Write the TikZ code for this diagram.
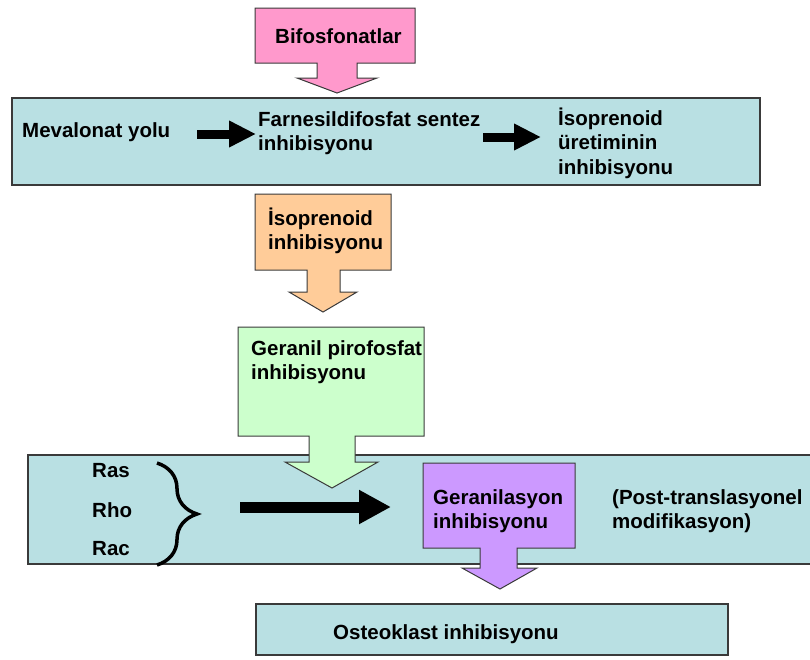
\documentclass[tikz,border=0pt]{standalone}
\usepackage{fontspec}
\setmainfont{Liberation Sans}
\usetikzlibrary{arrows.meta,decorations.pathreplacing}
\definecolor{bandblue}{HTML}{B9E0E3}
\definecolor{pinkc}{HTML}{FF99CC}
\definecolor{orangec}{HTML}{FFCC99}
\definecolor{greenc}{HTML}{CCFFCC}
\definecolor{purplec}{HTML}{CC99FF}
\definecolor{edgec}{HTML}{3A3A3A}
\tikzset{
  band/.style={draw=edgec, line width=1.2pt, fill=bandblue},
  callout/.style={draw=edgec, line width=1pt},
  lbl/.style={anchor=base west, inner sep=0pt, align=left, font=\fontsize{20.5}{24.5}\selectfont\bfseries},
  blockarrow/.style={line width=#1, draw=black},
}
\begin{document}
\begin{tikzpicture}[x=1pt,y=-1pt]
\useasboundingbox (0,0) rectangle (810,659);
% band 1
\draw[band] (12,98) rectangle (760,185);
% pink callout
\draw[callout, fill=pinkc] (255,8) -- (415,8) -- (415,63) -- (357,63) -- (357,78) -- (377,78) -- (337,93) -- (297,78) -- (317,78) -- (317,63) -- (255,63) -- cycle;
\node[lbl] (bif) at (275,43) {Bifosfonatlar};
% band 1 texts (base = last line)
\node[lbl] (mev) at (22,137) {Mevalonat yolu};
\node[lbl] (far) at (258,150.5) {Farnesildifosfat sentez\\inhibisyonu};
\node[lbl] (iso) at (558,174) {İsoprenoid\\üretiminin\\inhibisyonu};
\coordinate (a1s) at (197,134);
\coordinate (a1e) at (256,134);
\coordinate (a2s) at (483,137);
\coordinate (a2e) at (541,137);
\draw[blockarrow=9pt, -{Triangle[length=27pt,width=25pt]}] (a1s) -- (a1e);
\draw[blockarrow=9pt, -{Triangle[length=27pt,width=25pt]}] (a2s) -- (a2e);
% orange callout
\draw[callout, fill=orangec] (255,194) -- (391,194) -- (391,270) -- (340,270) -- (340,292) -- (357,292) -- (323,312) -- (289,292) -- (307,292) -- (307,270) -- (255,270) -- cycle;
\node[lbl] (isoinh) at (268,249.5) {İsoprenoid\\inhibisyonu};
% band 2
\draw[band] (28,455) rectangle (815,564);
% green callout
\draw[callout, fill=greenc] (238,327) -- (424,327) -- (424,436) -- (355,436) -- (355,462) -- (378,462) -- (332,488) -- (285,462) -- (309,462) -- (309,436) -- (238,436) -- cycle;
\node[lbl] (ger) at (251,379.5) {Geranil pirofosfat\\inhibisyonu};
% band 2 contents
\node[lbl] (ras) at (92,477) {Ras};
\node[lbl] (rho) at (92,517) {Rho};
\node[lbl] (rac) at (92,555) {Rac};
\coordinate (brt) at (157,463);
\coordinate (brb) at (157,565);
\draw[line width=3.5pt, decoration={brace, amplitude=40pt, aspect=0.5}, decorate] (brt) -- (brb);
\coordinate (a3s) at (240,507);
\coordinate (a3e) at (391,507);
\draw[blockarrow=11pt, -{Triangle[length=32pt,width=32pt]}] (a3s) -- (a3e);
% purple callout
\draw[callout, fill=purplec] (423,463) -- (575,463) -- (575,548) -- (517,548) -- (517,568) -- (537,568) -- (500,589) -- (462,568) -- (480,568) -- (480,548) -- (423,548) -- cycle;
\node[lbl] (gerinh) at (433,528.5) {Geranilasyon\\inhibisyonu};
\node[lbl] (post) at (612,528.5) {(Post-translasyonel\\modifikasyon)};
% osteoklast
\draw[band] (256,604) rectangle (728,655);
\node[lbl] (ost) at (333,639) {Osteoklast inhibisyonu};
\end{tikzpicture}
\end{document}
